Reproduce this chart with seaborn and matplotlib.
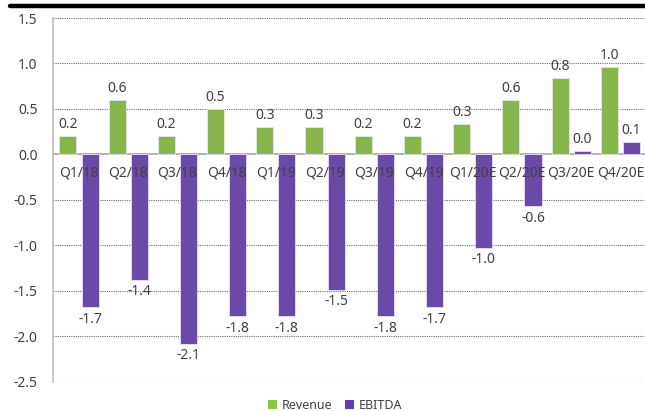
import pandas as pd
import numpy as np
import matplotlib
matplotlib.use("Agg")
import matplotlib.pyplot as plt
from matplotlib.lines import Line2D
from matplotlib.patches import Patch
import seaborn as sns

quarters = ["Q1/18", "Q2/18", "Q3/18", "Q4/18", "Q1/19", "Q2/19",
            "Q3/19", "Q4/19", "Q1/20E", "Q2/20E", "Q3/20E", "Q4/20E"]
revenue = [0.2, 0.6, 0.2, 0.5, 0.3, 0.3, 0.2, 0.2, 0.33, 0.6, 0.84, 0.96]
ebitda = [-1.68, -1.38, -2.08, -1.78, -1.78, -1.49, -1.78, -1.68, -1.03, -0.57, 0.04, 0.14]
series = ["Revenue", "EBITDA"]
colors = ["#8CC83A", "#673AB7"]

df = pd.DataFrame({
    "quarter": quarters * 2,
    "value": revenue + ebitda,
    "series": [series[0]] * len(quarters) + [series[1]] * len(quarters),
})

sns.set_style("white")
plt.rcParams["font.family"] = ["Noto Sans", "DejaVu Sans"]
txt = "#404040"

fig = plt.figure(figsize=(6.45, 4.11), dpi=100)
ax = fig.add_axes([0.082, 0.0706, 0.918, 0.8856])

sns.barplot(data=df, x="quarter", y="value", hue="series", order=quarters,
            hue_order=series, palette=colors, width=0.9, gap=0.23,
            edgecolor="#E8E0F4", linewidth=0.6, legend=False, ax=ax, zorder=3)

for cont in ax.containers:
    ax.bar_label(cont, fmt="{:.1f}", padding=3, fontsize=10, color=txt, zorder=5)

ax.set_ylim(-2.5, 1.5)
ax.set_xlim(-0.53, 11.5)
ax.set_yticks(np.arange(-2.5, 1.51, 0.5))
ax.set_yticklabels([f"{v:.1f}" for v in np.arange(-2.5, 1.51, 0.5)], fontsize=10, color=txt)
ax.tick_params(axis="y", length=0, pad=11)
ax.set_xticks([])
ax.set_xlabel("")
ax.set_ylabel("")

for v in np.arange(-2.5, 1.51, 0.5):
    if abs(v) < 1e-9:
        ax.axhline(0, color="#A6A6A6", lw=1.2, zorder=2)
    else:
        ax.axhline(v, color="#6F6F6F", lw=0.8, ls=(0, (1, 1)), zorder=1)

for i, q in enumerate(quarters):
    ax.text(i, -0.2, q, ha="center", va="center", fontsize=10, color=txt, zorder=6)

for s in ["top", "right", "bottom"]:
    ax.spines[s].set_visible(False)
ax.spines["left"].set_color("#BFBFBF")
ax.spines["left"].set_linewidth(1.2)

handles = [Patch(facecolor=c, edgecolor="none") for c in colors]
fig.legend(handles, series, loc="lower center", bbox_to_anchor=(0.52, -0.03), ncol=2,
           frameon=False, fontsize=9, handlelength=0.7, handleheight=0.7,
           handletextpad=0.4, columnspacing=1.0, labelcolor=txt)

fig.add_artist(Line2D([0.016, 1.0], [0.985, 0.985], color="black", lw=3.2))

fig.savefig("out.png", dpi=100)
